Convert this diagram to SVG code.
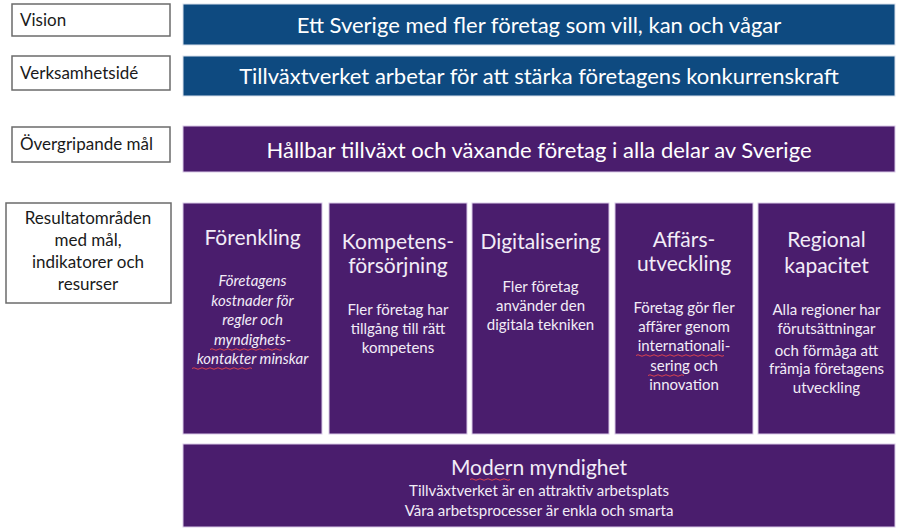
<svg xmlns="http://www.w3.org/2000/svg" width="902" height="530" viewBox="0 0 902 530">
<style>
  text { font-family: Lato, "Open Sans", "Liberation Sans", sans-serif; }
  .lbl { fill: #ffffff; stroke: #6b6b6b; stroke-width: 1.5; }
  .lt { font-size: 17px; fill: #1a1a1a; }
  .blue { fill: #0e4a80; stroke: #d8e0ec; stroke-width: 1; }
  .purp { fill: #4a1d6d; stroke: #d9c9e8; stroke-width: 1; }
  .bt { font-size: 22px; fill: #ffffff; text-anchor: middle; }
  .ct { font-size: 21px; fill: #f2ecf7; text-anchor: middle; }
  .cb { font-size: 15px; fill: #f2ecf7; text-anchor: middle; }
  .it { font-style: italic; }
  .sq { fill: none; stroke: #d9434f; stroke-width: 1; }
</style>
<rect width="902" height="530" fill="#ffffff"/>

<g id="label-vision">
  <rect class="lbl" x="12" y="4" width="158" height="32"/>
  <text class="lt" x="20" y="26">Vision</text>
</g>
<g id="label-verksamhetside">
  <rect class="lbl" x="12" y="56" width="158" height="34"/>
  <text class="lt" x="20" y="79">Verksamhetsidé</text>
</g>
<g id="label-overgripande">
  <rect class="lbl" x="12" y="127" width="158" height="35"/>
  <text class="lt" x="20" y="150">Övergripande mål</text>
</g>
<g id="label-resultat">
  <rect class="lbl" x="6" y="203" width="165" height="100"/>
  <text class="lt" x="88" y="224" text-anchor="middle" font-size="18.5">Resultatområden</text>
  <text class="lt" x="88" y="246" text-anchor="middle" font-size="18.5">med mål,</text>
  <text class="lt" x="88" y="268" text-anchor="middle" font-size="18.5">indikatorer och</text>
  <text class="lt" x="88" y="290" text-anchor="middle" font-size="18.5">resurser</text>
</g>

<g id="vision">
  <rect class="blue" x="183" y="4" width="712" height="41"/>
  <text class="bt" x="539" y="33">Ett Sverige med fler företag som vill, kan och vågar</text>
</g>
<g id="verksamhetside">
  <rect class="blue" x="183" y="56" width="712" height="40"/>
  <text class="bt" x="539" y="84">Tillväxtverket arbetar för att stärka företagens konkurrenskraft</text>
</g>
<g id="overgripande">
  <rect class="purp" x="183" y="126" width="712" height="46"/>
  <text class="bt" x="539" y="158">Hållbar tillväxt och växande företag i alla delar av Sverige</text>
</g>

<g id="forenkling">
  <rect class="purp" x="183" y="203" width="139" height="231"/>
  <text class="ct" x="252.5" y="245">Förenkling</text>
  <text class="cb it" x="252.5" y="286">Företagens</text>
  <text class="cb it" x="252.5" y="306">kostnader för</text>
  <text class="cb it" x="252.5" y="325">regler och</text>
  <text class="cb it" x="252.5" y="345">myndighets-</text>
  <text class="cb it" x="252.5" y="364">kontakter minskar</text>
  <path class="sq" d="M210 349.5 q2 -1.5 4 0 t4 0 t4 0 t4 0 t4 0 t4 0 t4 0 t4 0 t4 0 t4 0 t4 0 t4 0 t4 0 t4 0 t4 0 t4 0 t4 0 t4 0"/>
  <path class="sq" d="M192 368.5 q2 -1.5 4 0 t4 0 t4 0 t4 0 t4 0 t4 0 t4 0 t4 0 t4 0 t4 0 t4 0 t4 0 t4 0 t4 0 t4 0"/>
</g>
<g id="kompetens">
  <rect class="purp" x="329" y="203" width="138" height="231"/>
  <text class="ct" x="398" y="249">Kompetens-</text>
  <text class="ct" x="398" y="273">försörjning</text>
  <text class="cb" x="398" y="315">Fler företag har</text>
  <text class="cb" x="398" y="334">tillgång till rätt</text>
  <text class="cb" x="398" y="353">kompetens</text>
</g>
<g id="digitalisering">
  <rect class="purp" x="472" y="203" width="137" height="231"/>
  <text class="ct" x="540.5" y="249">Digitalisering</text>
  <text class="cb" x="540.5" y="292">Fler företag</text>
  <text class="cb" x="540.5" y="311">använder den</text>
  <text class="cb" x="540.5" y="330">digitala tekniken</text>
</g>
<g id="affarsutveckling">
  <rect class="purp" x="615" y="203" width="138" height="231"/>
  <text class="ct" x="684" y="247">Affärs-</text>
  <text class="ct" x="684" y="271">utveckling</text>
  <text class="cb" x="684" y="313">Företag gör fler</text>
  <text class="cb" x="684" y="332">affärer genom</text>
  <text class="cb" x="684" y="351">internationali-</text>
  <text class="cb" x="684" y="371">sering och</text>
  <text class="cb" x="684" y="390">innovation</text>
  <path class="sq" d="M636 355.5 q2 -1.5 4 0 t4 0 t4 0 t4 0 t4 0 t4 0 t4 0 t4 0 t4 0 t4 0 t4 0 t4 0 t4 0 t4 0 t4 0 t4 0 t4 0 t4 0 t4 0 t4 0 t4 0 t4 0"/>
  <path class="sq" d="M648 375.5 q2 -1.5 4 0 t4 0 t4 0 t4 0 t4 0 t4 0 t4 0 t4 0 t4 0"/>
</g>
<g id="regional">
  <rect class="purp" x="758" y="203" width="137" height="231"/>
  <text class="ct" x="826.5" y="247">Regional</text>
  <text class="ct" x="826.5" y="273">kapacitet</text>
  <text class="cb" x="826.5" y="315">Alla regioner har</text>
  <text class="cb" x="826.5" y="334">förutsättningar</text>
  <text class="cb" x="826.5" y="356">och förmåga att</text>
  <text class="cb" x="826.5" y="374">främja företagens</text>
  <text class="cb" x="826.5" y="393">utveckling</text>
</g>

<g id="modern">
  <rect class="purp" x="183" y="444" width="712" height="83"/>
  <text class="ct" x="539" y="475">Modern myndighet</text>
  <text class="cb" x="539" y="496" font-size="16">Tillväxtverket är en attraktiv arbetsplats</text>
  <text class="cb" x="539" y="516" font-size="16">Våra arbetsprocesser är enkla och smarta</text>
  <path class="sq" d="M470 479.5 q2 -1.5 4 0 t4 0 t4 0 t4 0 t4 0 t4 0 t4 0 t4 0 t4 0 t4 0"/>
</g>

<g id="connectors"></g>
</svg>
